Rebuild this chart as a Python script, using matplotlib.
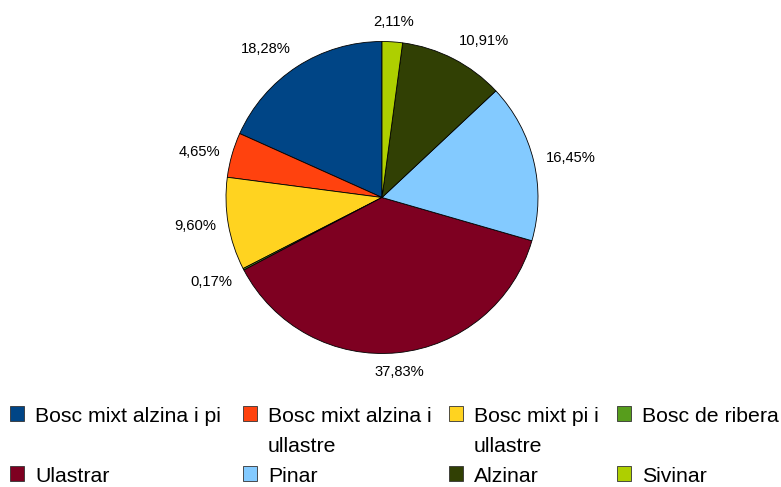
import matplotlib
matplotlib.use('Agg')
import matplotlib.pyplot as plt
from matplotlib.patches import Rectangle
import numpy as np

plt.rcParams['font.family'] = ['Liberation Sans', 'DejaVu Sans']

labels = ["Bosc mixt alzina i pi", "Bosc mixt alzina i\nullastre", "Bosc mixt pi i\nullastre",
          "Bosc de ribera", "Ulastrar", "Pinar", "Alzinar", "Sivinar"]
values = [18.28, 4.65, 9.60, 0.17, 37.83, 16.45, 10.91, 2.11]
pct_labels = ["18,28%", "4,65%", "9,60%", "0,17%", "37,83%", "16,45%", "10,91%", "2,11%"]
colors = ["#004586", "#ff420e", "#ffd320", "#579d1c", "#7e0021", "#83caff", "#314004", "#aecf00"]

W, H = 781, 487
fig = plt.figure(figsize=(W / 100, H / 100), dpi=100)
cx, cy, R = 382, 197.5, 156
ax = fig.add_axes([(cx - R) / W, (H - cy - R) / H, 2 * R / W, 2 * R / H])
wedges, _ = ax.pie(values, colors=colors, startangle=90, counterclock=True,
                   wedgeprops=dict(edgecolor='black', linewidth=0.6))
ax.set_xlim(-1, 1)
ax.set_ylim(-1, 1)
ax.set_aspect('equal')

ha_map = ['left', 'left', 'center', 'right', 'right', 'right', 'center', 'left']
va_map = ['center', 'bottom', 'bottom', 'bottom', 'center', 'top', 'top', 'top']
for w, lab in zip(wedges, pct_labels):
    ang = (w.theta1 + w.theta2) / 2
    a = np.deg2rad(ang)
    x, y = 1.08 * np.cos(a), 1.08 * np.sin(a)
    zone = int(((ang % 360) + 22.5) // 45) % 8
    ax.text(x, y, lab, ha=ha_map[zone], va=va_map[zone], fontsize=10.6, color='black')

# legend (manual, 4 columns x 2 rows)
col_x = [10, 243, 449, 617]
row_top = [406, 466]
line_h = 30
for i, (lab, col) in enumerate(zip(labels, colors)):
    r, c = divmod(i, 4)
    x0 = col_x[c]
    y0 = row_top[r]
    fig.patches.append(Rectangle((x0 / W, 1 - (y0 + 15) / H), 14 / W, 15 / H,
                                 transform=fig.transFigure, facecolor=col,
                                 edgecolor='#333333', linewidth=0.6))
    for k, line in enumerate(lab.split('\n')):
        fig.text((x0 + 25) / W, 1 - (y0 + 16 + k * line_h) / H, line,
                 ha='left', va='baseline', fontsize=15.3, color='black')

fig.savefig('out.png', dpi=100, facecolor='white')
